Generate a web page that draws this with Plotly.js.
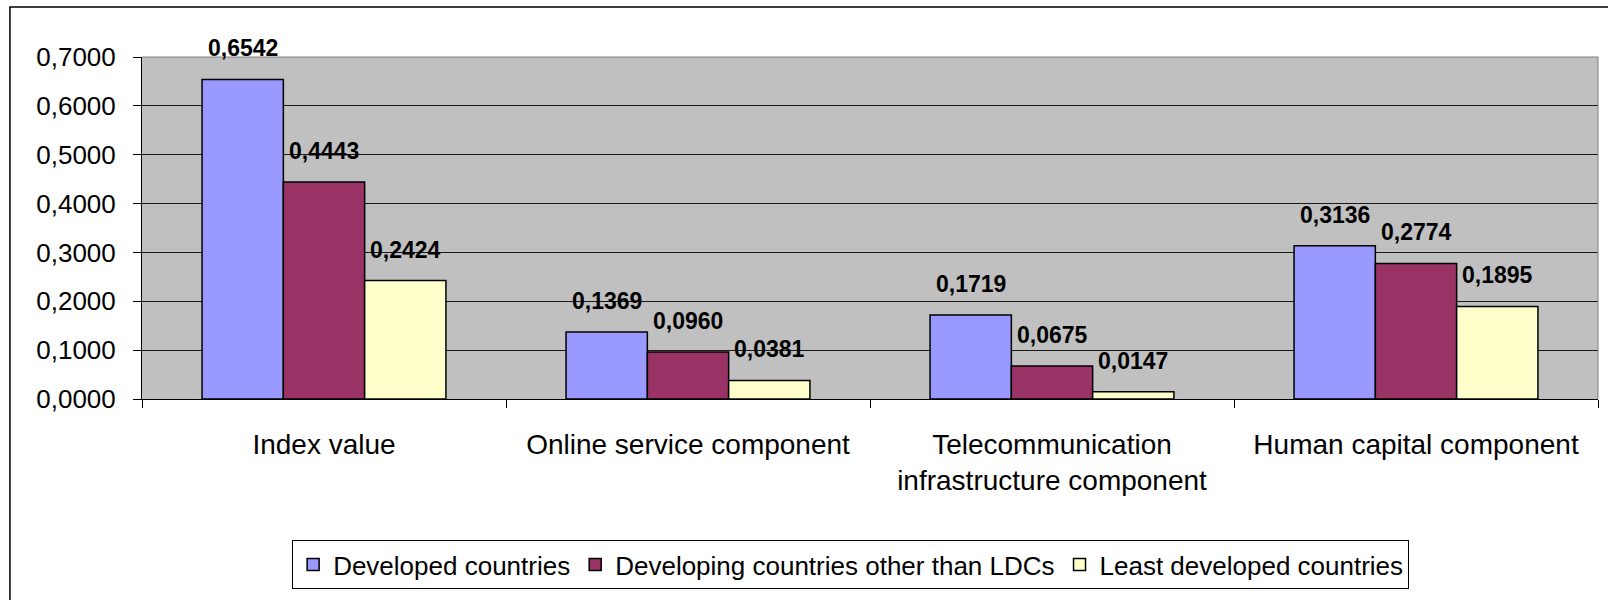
<!DOCTYPE html>
<html>
<head>
<meta charset="utf-8">
<script src="https://cdn.plot.ly/plotly-3.0.1.min.js"></script>
<style>html,body{margin:0;padding:0;background:#fff;}#chart{width:1608px;height:600px;}</style>
</head>
<body>
<div id="chart"></div>
<script>
const categories = ['Index value', 'Online service component', 'Telecommunication<br>infrastructure component', 'Human capital component'];
const seriesNames = ['Developed countries', 'Developing countries other than LDCs', 'Least developed countries'];
const developed = [0.6542, 0.1369, 0.1719, 0.3136];
const developing = [0.4443, 0.0960, 0.0675, 0.2774];
const leastDeveloped = [0.2424, 0.0381, 0.0147, 0.1895];
const yTicks = [0, 0.1, 0.2, 0.3, 0.4, 0.5, 0.6, 0.7];

const seriesValues = [developed, developing, leastDeveloped];
const colors = ['#9999FF', '#993366', '#FFFFCC'];
const bargap = 0.33;

const traces = seriesValues.map((vals, i) => ({
  type: 'bar',
  name: seriesNames[i],
  x: categories,
  y: vals,
  marker: {color: colors[i], line: {color: '#000', width: 1.5}},
  hoverinfo: 'skip'
}));

const barW = (1 - bargap) / seriesValues.length;
const annotations = [];
seriesValues.forEach((vals, i) => {
  vals.forEach((v, j) => {
    annotations.push({
      x: j + (i - (seriesValues.length - 1) / 2) * barW,
      y: v,
      xref: 'x', yref: 'y',
      text: v.toFixed(4).replace('.', ','),
      showarrow: false,
      yshift: 31,
      font: {family: 'Liberation Sans, Arial, sans-serif', size: 23, color: '#000', weight: 'bold'}
    });
  });
});

const layout = {
  width: 1608, height: 600,
  margin: {l: 142, r: 10, t: 57, b: 201},
  paper_bgcolor: '#fff',
  plot_bgcolor: '#C0C0C0',
  font: {family: 'Liberation Sans, Arial, sans-serif', color: '#000'},
  separators: ',.',
  barmode: 'group',
  bargap: bargap,
  bargroupgap: 0,
  showlegend: true,
  legend: {
    orientation: 'h',
    xref: 'container', yref: 'container',
    x: 0.529, xanchor: 'center',
    y: 0.1, yanchor: 'top',
    bgcolor: '#fff', bordercolor: '#000', borderwidth: 1,
    font: {size: 26, color: '#000'},
    itemwidth: 30,
    itemgap: 12,
    traceorder: 'normal'
  },
  xaxis: {
    type: 'category',
    tickson: 'boundaries',
    ticks: 'outside', ticklen: 8, tickcolor: '#000', tickwidth: 1,
    showline: true, linecolor: '#000', linewidth: 1,
    showgrid: false,
    tickfont: {size: 28, color: '#000'},
    ticklabelstandoff: 20,
    fixedrange: true
  },
  yaxis: {
    range: [0, 0.7],
    tickvals: yTicks,
    tickformat: '.4f',
    ticks: 'outside', ticklen: 8, tickcolor: '#000', tickwidth: 1,
    showline: true, linecolor: '#000', linewidth: 1,
    showgrid: true, gridcolor: '#1a1a1a', gridwidth: 1,
    zeroline: false,
    tickfont: {size: 26, color: '#000'},
    ticklabelstandoff: 12,
    fixedrange: true
  },
  annotations: annotations,
  shapes: [
    {type: 'line', xref: 'paper', yref: 'paper', x0: 0, x1: 1, y0: 1, y1: 1, line: {color: '#808080', width: 1}},
    {type: 'line', xref: 'paper', yref: 'paper', x0: 1, x1: 1, y0: 0, y1: 1, line: {color: '#808080', width: 1}},
    {type: 'rect', xref: 'paper', yref: 'paper', x0: -0.0907, x1: 1.2, y0: -0.7, y1: 1.1462, line: {color: '#000', width: 1.5}, fillcolor: 'rgba(0,0,0,0)'}
  ]
};

Plotly.newPlot('chart', traces, layout, {displayModeBar: false, staticPlot: true});
</script>
</body>
</html>
